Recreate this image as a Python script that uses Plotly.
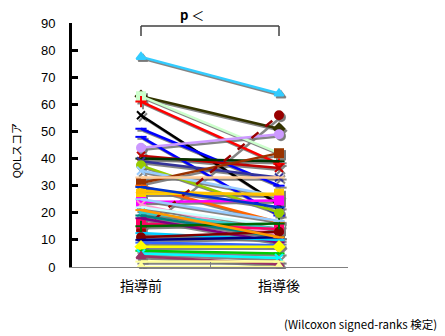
import plotly.graph_objects as go

categories = ["指導前", "指導後"]

# each patient: (before, after)
pre_vals = [77.5, 63, 63, 61, 56, 51, 48, 44, 41, 40, 39, 37.5, 35.5, 31, 30, 33, 27, 28, 24, 23,
            22, 20, 13.5, 16, 19, 18, 12.5, 11, 10, 9, 7.5, 6, 5, 4, 2, 0, 15, 21, 25, 29.5]
post_vals = [64, 51, 42, 38, 23, 30, 19, 49, 36.5, 39, 33, 20, 26, 42, 16.5, 33, 27, 26.5, 24.5, 12,
             15, 14, 56, 14, 11, 9, 10, 13, 11, 8, 7.5, 5, 3.3, 1, 2, 0, 16, 11, 17, 22]
colors = ["#33CCFF", "#333300", "#CCFFCC", "#FF0000", "#000000", "#0000FF", "#0000FF", "#CC99FF",
          "#C00000", "#003300", "#333399", "#99CC00", "#99CCFF", "#993300", "#FF6600", "#FFCC99",
          "#FFCC00", "#FFC000", "#FF00FF", "#FF99CC", "#CCFFFF", "#33CCCC", "#990000", "#FF0066",
          "#008080", "#800080", "#00CCFF", "#800000", "#000080", "#3366FF", "#FFFF00", "#00CC00",
          "#00FFFF", "#993366", "#FFFF99", "#FFFF99", "#006600", "#FF9900", "#99CCFF", "#0033CC"]
markers = ["triangle-up", "diamond", "square", "cross-thin", "x-thin", "line-ew", "line-ew", "circle",
           "x-thin", "line-ew", "x-thin", "circle", "x-thin", "square", "line-ew", "line-ew",
           "square", "triangle-up", "square", "x-thin", "line-ew", "x-thin", "circle", "square",
           "line-ew", "line-ew", "line-ew", "circle", "line-ew", "line-ew", "diamond", "line-ew",
           "x-thin", "triangle-up", "line-ew", "triangle-up", "cross-thin", "line-ew", "line-ew", "line-ew"]
dashes = ["solid"] * 40
dashes[22] = "dash"

y_ticks = list(range(0, 91, 10))

fig = go.Figure()

shadow = "rgba(120,120,120,0.9)"
# shadows (base subplot, shifted by domain)
for a, b, m in zip(pre_vals, post_vals, markers):
    fig.add_trace(go.Scatter(
        x=categories, y=[a, b], mode="lines+markers", xaxis="x", yaxis="y",
        line=dict(color=shadow, width=2.5),
        marker=dict(symbol=m, size=8, color=shadow, line=dict(color=shadow, width=2)),
        showlegend=False, hoverinfo="skip"))

for a, b, c, m, d in zip(pre_vals, post_vals, colors, markers, dashes):
    fig.add_trace(go.Scatter(
        x=categories, y=[a, b], mode="lines+markers", xaxis="x2", yaxis="y2",
        line=dict(color=c, width=2.5, dash=d),
        marker=dict(symbol=m, size=8, color=c, line=dict(color=c, width=2)),
        showlegend=False))

W, H = 278, 246
dx, dy = 2 / W, 2 / H

fig.update_layout(
    width=445, height=336,
    margin=dict(l=72, r=445 - 72 - W, t=23, b=336 - 23 - H),
    paper_bgcolor="white", plot_bgcolor="rgba(0,0,0,0)",
    font=dict(family="Liberation Sans, Arial, sans-serif", color="black"),
    xaxis=dict(domain=[dx, 1], type="category", range=[-0.5, 1.5], visible=False),
    yaxis=dict(domain=[0, 1 - dy], range=[0, 90], visible=False),
    xaxis2=dict(domain=[0, 1 - dx], type="category", range=[-0.5, 1.5], anchor="y2",
                showline=True, linecolor="#808080", linewidth=1, showgrid=False, zeroline=False,
                ticks="inside", tickson="boundaries", ticklen=5, tickcolor="#808080", tickwidth=1,
                tickfont=dict(family="Noto Sans CJK JP", size=14, color="black"),
                ticklabelstandoff=6),
    yaxis2=dict(domain=[dy, 1], range=[0, 90], anchor="x2", tickvals=y_ticks,
                showline=True, linecolor="black", linewidth=3, showgrid=False, zeroline=False,
                ticks="inside", ticklen=6, tickwidth=3, tickcolor="black",
                tickfont=dict(size=13, color="black"), ticklabelstandoff=11),
    shapes=[
        dict(type="line", xref="x2", yref="y2", x0=categories[0], x1=categories[0], y0=85.2, y1=88.9,
             line=dict(color="#404040", width=1.5)),
        dict(type="line", xref="x2", yref="y2", x0=categories[0], x1=categories[1], y0=88.9, y1=88.9,
             line=dict(color="#404040", width=1.5)),
        dict(type="line", xref="x2", yref="y2", x0=categories[1], x1=categories[1], y0=85.2, y1=88.9,
             line=dict(color="#404040", width=1.5)),
    ],
    annotations=[
        dict(text="<b>p</b> ＜", xref="paper", yref="paper", x=0.43, y=1.035, showarrow=False,
             font=dict(family="Noto Sans CJK JP", size=13, color="black"), xanchor="center", yanchor="middle"),
        dict(text="QOLスコア", xref="paper", yref="paper", x=-0.2, y=0.48, showarrow=False, textangle=-90,
             font=dict(family="Noto Sans CJK JP", size=11, color="black"), xanchor="center", yanchor="middle"),
        dict(text="(Wilcoxon signed-ranks 検定)", xref="paper", yref="paper", x=1.32, y=-0.225,
             showarrow=False, font=dict(family="Noto Sans CJK JP", size=11.5, color="black"),
             xanchor="right", yanchor="middle"),
    ],
)

fig.write_html("out.html")
